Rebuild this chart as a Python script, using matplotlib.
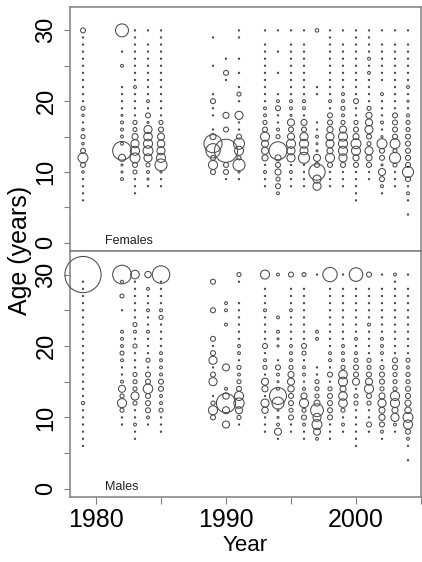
import numpy as np
import matplotlib
matplotlib.use('Agg')
import matplotlib.pyplot as plt

plt.rcParams['font.family'] = ['Liberation Sans', 'DejaVu Sans']

# Years sampled and ages (30 = plus group), listed from old to young
years = [1979, 1982, 1983, 1984, 1985, 1989, 1990, 1991, 1993, 1994,
         1995, 1996, 1997, 1998, 1999, 2000, 2001, 2002, 2003, 2004]
ages = list(range(30, 3, -1))

# Proportion at age (%), one row per year, ages 30 -> 4
females = [
    [0.6, .04, .04, .04, .04, .04, .04, .04, .04, .04, .04, 0.4, .15, .04, .15, 0.4, .15, 0.6, 2.4, 0.6, .15, .04, .04, .04, .04, 0, 0],
    [4.1, 0, 0, .04, 0, .2, 0, 0, .04, .04, .04, .04, .1, .2, .2, .2, .2, 8.5, 1.2, .1, .1, .2, 0, 0, 0, 0, 0],
    [.04, .04, .04, .04, .04, .04, .04, .04, .2, .04, .04, .04, .04, 0.4, 0.4, 0.9, 1.6, 2.0, 2.4, 0.6, 0.4, .04, .04, .04, 0, 0, 0],
    [.04, 0, .04, .04, .04, .04, .04, .04, .04, .04, .2, .04, 0.6, .1, 1.6, 1.8, 2.0, 2.4, 1.6, 0.4, .2, .1, .04, 0, 0, 0, 0],
    [.04, .04, .04, .04, .04, .04, .04, .04, .04, .04, .04, .04, .04, 0.4, 0.6, 1.2, 1.4, 1.6, 2.0, 3.5, .1, .04, .04, 0, 0, 0, 0],
    [0, .04, 0, 0, 0, .04, 0, 0, 0, .04, 0.6, .04, .04, 0, .04, 0.9, 8.0, 5.0, 0.6, 2.0, 0.6, 0, 0, 0, 0, 0, 0],
    [0, 0, 0, 0, .04, 0, 0.6, .04, 0, 0, 0, 0, 0.9, 0, 0.6, 0, 0, 13.0, 0, 0.6, 0.6, .04, 0, 0, 0, 0, 0],
    [.04, .04, 0, 0, .04, 0, .04, 0, .04, 0.4, .04, 0, 1.6, .04, .04, 0.6, 3.0, 2.0, 0.4, 3.5, .1, .04, 0, 0, 0, 0, 0],
    [.04, 0, .04, .04, .04, .04, .04, .04, .04, .04, .04, .2, .2, 0.4, 0.6, 2.0, 1.2, 1.2, 0.9, .04, .2, .04, .04, 0, 0, 0, 0],
    [.04, 0, 0, .04, 0, 0, .04, 0, 0, .04, .2, 0.6, .04, .04, .2, 0.4, 0, 7.9, 0.9, 0.6, 0.9, 0.4, 0.6, .2, 0, 0, 0],
    [.04, 0, .04, .04, .04, .04, .04, .04, .04, .04, .2, .2, .1, 1.2, 0.6, 1.2, 2.0, 1.6, 1.6, .04, .2, .04, .04, 0, 0, 0, 0],
    [.04, 0, .04, .04, .04, .04, .04, .04, .04, .04, .2, .2, .04, 0.9, 0.6, 1.6, 2.0, 1.6, 3.0, .04, .04, .04, .04, 0, 0, 0, 0],
    [0.3, 0, 0, 0, 0, 0, 0, 0, .04, .04, 0, 0, 0, .04, .04, .2, .1, .1, 1.2, 0.6, 6.5, 1.6, 1.6, 0, 0, 0, 0],
    [.04, .04, .04, .04, .04, .04, .04, .04, .04, .04, .2, .04, 0.6, 0.6, 0.9, 1.6, 1.6, 0.9, 2.0, 0.6, .04, .04, .04, 0, 0, 0, 0],
    [.04, 0, .04, .04, .04, .04, .04, .04, .04, .2, .2, 0.4, .2, 0.4, 1.2, 2.0, 2.0, 2.0, 1.6, 0.6, .04, .04, .04, 0, 0, 0, 0],
    [.04, .04, .04, .04, .04, .04, .04, .04, .04, .04, 0.6, .04, .04, 0.4, 0.6, 0.9, 2.4, 2.0, 0.9, 0.6, .04, .04, .04, .04, .04, 0, 0],
    [.04, .04, .04, .04, .2, .04, .2, .04, .04, .04, .04, 0.4, 0.9, 1.2, 1.6, 0.6, 0.4, 1.6, 0.9, 0.6, .04, .04, 0, 0, 0, 0, 0],
    [.04, 0, .04, .04, .04, .04, .04, .04, 0, .2, .04, .04, .04, .2, .04, .1, 2.4, 0.6, 0.6, .1, 1.2, 0.6, .2, .04, 0, 0, 0],
    [.04, 0, .04, .04, .04, .04, .04, .04, .04, .04, .04, .04, 0.6, 0.6, 0.6, 0.6, 2.4, 0.4, 3.0, 0.4, .04, .04, .04, 0, 0, 0, 0],
    [.04, 0, .04, .04, .04, .04, .04, .04, .2, .04, .1, .04, .2, 0.4, 0.4, 0.6, 0.6, 0.6, 0.6, 0.6, 3.0, 0.6, .04, .2, .04, 0, .04],
]

males = [
    [32.0, .04, .04, .04, .04, .04, .04, .04, .04, .04, .04, .04, .04, .04, .04, .04, .04, .04, 0.25, .04, .04, .04, .04, .04, .04, 0, 0],
    [8.5, .2, 0, 0.4, 0, .04, 0, 0, .2, .2, .2, 0.4, .2, .04, .04, .2, 1.2, 0.4, 2.0, 0.4, .04, .04, 0, 0, 0, 0, 0],
    [1.8, .04, .04, .04, .04, .04, .04, 0.4, .2, .04, 0.4, .04, .04, .04, 0.4, 0.4, 0.4, 1.6, 0.4, .04, .04, .2, .04, .04, 0, 0, 0],
    [1.0, 0, .2, .04, .04, .2, .04, .04, .2, .04, .04, .04, 0.4, .04, 0.6, 0.6, 2.2, 0.6, 0.6, 0.6, .2, .04, 0, 0, 0, 0, 0],
    [7.5, .04, .04, .04, .04, .2, 0.4, .04, .04, .04, .04, .2, .2, .2, .2, 0.6, 0.6, .2, .2, 0.4, .04, .04, .04, 0, 0, 0, 0],
    [0, 0.6, 0, 0, 0, 0.6, 0, 0, 0, 0.6, .04, 0.6, 1.6, .04, 0.6, 1.6, 0, .04, 0.4, 2.0, 0.6, 0, 0, 0, 0, 0, 0],
    [0, 0, 0, 0, .2, .2, 0, .2, 0, 0, 0, 0, 0, 1.2, 0, 0, .2, 1.0, 9.0, 1.2, 0, 1.2, 0, 0, 0, 0, 0],
    [0.4, .04, 0, 0, .04, .04, .04, .04, .04, .04, .2, .2, .04, 0.4, .2, 0.4, 0.6, 2.0, 2.6, 1.2, 0.4, .04, 0, 0, 0, 0, 0],
    [2.0, 0, .04, .04, .04, .2, .04, .04, .04, .04, 0.6, .04, .2, 0.4, .04, 1.2, 0.9, .04, 1.6, 1.0, .04, .04, .04, 0, 0, 0, 0],
    [.2, 0, 0, 0, 0, 0, .2, 0, .2, .1, .1, 0, .04, 0.6, .2, .1, .2, 7.0, 3.5, .1, .1, .2, 1.2, .04, 0, 0, 0],
    [0.6, 0, .04, .04, .04, .2, .04, .04, .04, .04, .2, .2, .2, 0.4, 0.9, 1.2, 1.0, 0.6, 0.6, 0.4, 0.6, .04, .04, 0, 0, 0, 0],
    [0.4, 0, .04, .04, .04, .04, .04, .04, .04, .04, 0.6, 0.4, .04, .2, .2, .04, .2, 0.9, 2.0, 0.4, 0.6, .2, .04, .04, 0, 0, 0],
    [.04, 0, 0, 0, 0, 0, 0, 0, .2, .2, 0, 0, 0, .04, .04, 0.4, 0.4, 0.4, 0.9, 4.0, 1.6, 2.4, 1.2, .2, 0, 0, 0],
    [5.0, 0, .04, .04, .04, .04, .04, .04, .04, .04, .04, .2, .2, .04, 0.6, .04, 0.4, 0.6, 0.6, 0.6, 0.6, .04, .04, .04, 0, 0, 0],
    [.04, 0, .04, .04, .04, .04, .04, .04, .04, .04, .2, .2, .2, 0.4, 1.8, 2.0, 0.9, 1.8, 1.8, 0.4, .04, .2, .04, 0, 0, 0, 0],
    [4.5, 0, .04, .04, .04, .04, .04, .04, .04, .2, .04, .2, 0.4, 0.6, 0.6, 1.2, .04, 0.4, 0.4, .04, .04, .04, .04, .04, .04, 0, 0],
    [0.6, 0, .04, .04, .04, .04, .04, .2, .04, .04, .04, .04, 0.4, 0.4, 0.6, 1.2, 2.0, 0.6, 0.4, .04, .04, 0.6, .04, 0, 0, 0, 0],
    [.04, 0, .04, .04, .04, .04, .04, .04, .04, .2, .2, .2, .04, 0.4, 0.6, 0.6, 0.4, 0.9, 1.6, 0.9, 0.9, 0.6, .2, .04, 0, 0, 0],
    [.2, .04, .04, .04, .04, .04, .04, .04, .04, .04, .04, .04, 0.6, 0.6, 0.4, 0.4, 0.4, 2.0, 2.0, 0.9, 1.6, .2, .04, 0, 0, 0, 0],
    [.04, 0, .04, .04, .04, .04, .04, .04, .04, .04, .04, .04, 0.4, .2, 0.4, 0.4, 0.6, 0.6, 0.9, 1.0, 2.4, 2.0, 0.6, .2, .04, 0, .04],
]

dpi = 100
fig = plt.figure(figsize=(4.22, 5.62), dpi=dpi)

frame_col = '#808080'
circle_col = '#4a4a4a'


def bubble_area(pct):
    # circle radius in pixels grows with sqrt of the proportion
    r_px = 3.2 * np.sqrt(pct)
    return (2 * r_px * 72.0 / dpi) ** 2


def draw_panel(ax, data, label):
    xs, ys, ss = [], [], []
    for yr, row in zip(years, data):
        for age, p in zip(ages, row):
            if p > 0:
                xs.append(yr)
                ys.append(age)
                ss.append(bubble_area(p))
    ax.scatter(xs, ys, s=ss, facecolors='none', edgecolors=circle_col,
               linewidths=0.75, clip_on=False, zorder=3)
    ax.set_xlim(1978, 2005)
    ax.set_ylim(-1.15, 33.3)
    ax.set_yticks([0, 10, 20, 30])
    ax.set_yticks([5, 15, 25], minor=True)
    ax.tick_params(axis='y', which='both', direction='out', length=4,
                   width=0.8, color=frame_col, labelsize=17, pad=5,
                   labelrotation=90)
    for t in ax.get_yticklabels():
        t.set_va('center')
    for sp in ax.spines.values():
        sp.set_color(frame_col)
        sp.set_linewidth(1.1)
    ax.text(0.1, 0.018, label, transform=ax.transAxes, fontsize=9,
            color='#222222', va='bottom', ha='left')


ax_f = fig.add_axes([70 / 422, 1 - 251 / 562, 351 / 422, 244 / 562])
ax_m = fig.add_axes([70 / 422, 1 - 497 / 562, 351 / 422, 246 / 562])

draw_panel(ax_f, females, 'Females')
draw_panel(ax_m, males, 'Males')

ax_f.tick_params(axis='x', which='both', bottom=False, labelbottom=False)

ax_m.set_xticks([1980, 1990, 2000])
ax_m.set_xticks([1985, 1995, 2005], minor=True)
ax_m.tick_params(axis='x', which='both', direction='out', length=5,
                 width=0.8, color=frame_col, labelsize=18, pad=3)
ax_m.set_xlabel('Year', fontsize=16, labelpad=2)

fig.text(20 / 422, 1 - 250 / 562, 'Age (years)', rotation=90, fontsize=18,
         ha='center', va='center')

fig.savefig('out.png', dpi=dpi)
